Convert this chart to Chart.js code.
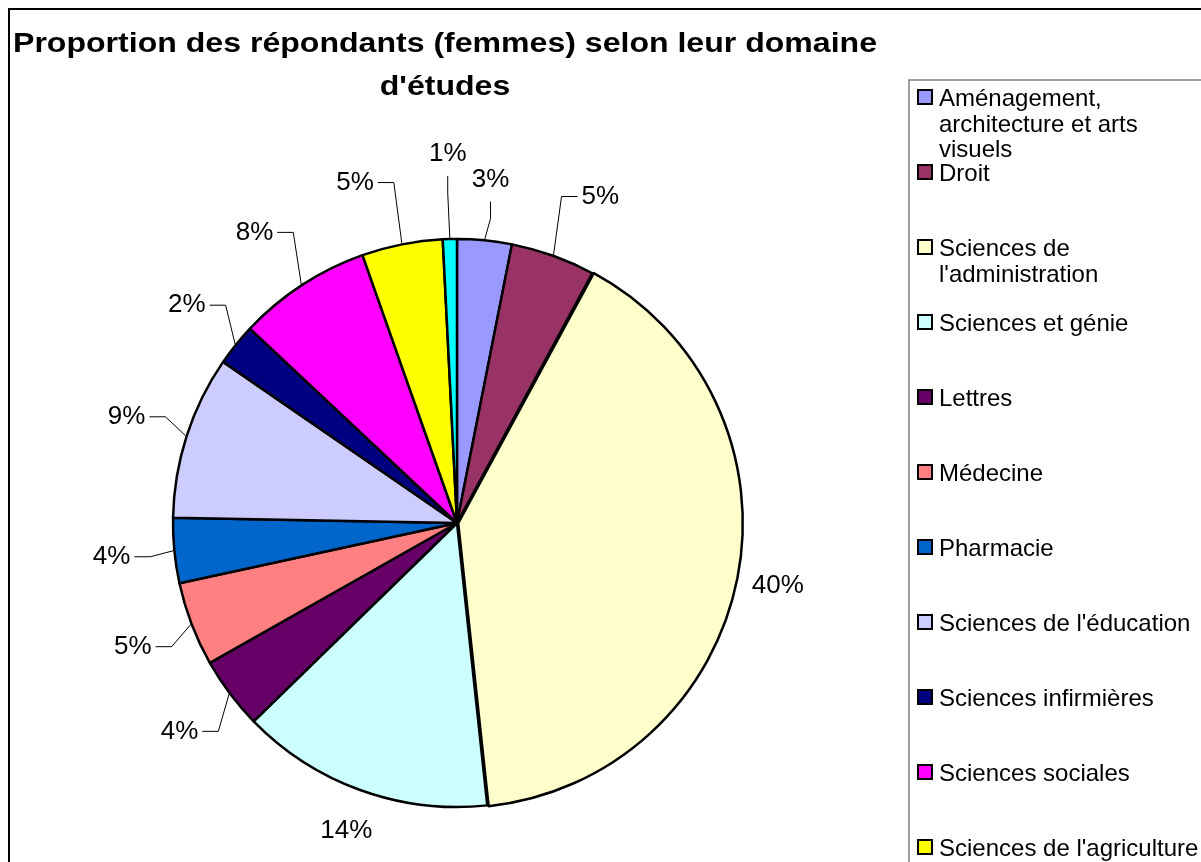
<!DOCTYPE html>
<html lang="fr">
<head>
<meta charset="utf-8">
<script src="https://cdn.jsdelivr.net/npm/chart.js@4.4.1/dist/chart.umd.min.js"></script>
<style>
  html, body { margin: 0; padding: 0; background: #ffffff; overflow: hidden; }
  #wrap { position: relative; width: 1201px; height: 862px; }
  canvas { display: block; }
</style>
</head>
<body>
<div id="wrap"><canvas id="c" width="1201" height="862"></canvas></div>
<script>
// ---- Data ----
const titleLines = ["Proportion des répondants (femmes) selon leur domaine", "d'études"];
const categories = [
  "Aménagement, architecture et arts visuels",
  "Droit",
  "Sciences de l'administration",
  "Sciences et génie",
  "Lettres",
  "Médecine",
  "Pharmacie",
  "Sciences de l'éducation",
  "Sciences infirmières",
  "Sciences sociales",
  "Sciences de l'agriculture",
  "Autres"
];
const values = [3.1, 4.8, 40.4, 14.4, 4.1, 4.8, 3.7, 9.3, 2.4, 7.6, 4.6, 0.8];
const colors = ["#9999FF", "#993366", "#FFFFCC", "#CCFFFF", "#660066", "#FF8080",
                "#0066CC", "#CCCCFF", "#000080", "#FF00FF", "#FFFF00", "#00FFFF"];

const FONT = '"Liberation Sans", Arial, Helvetica, sans-serif';
const total = values.reduce((a, b) => a + b, 0);
const maxVal = Math.max(...values);

// Frame + title
const framePlugin = {
  id: 'frame',
  beforeDraw(chart) {
    const ctx = chart.ctx;
    ctx.save();
    ctx.fillStyle = '#ffffff';
    ctx.fillRect(0, 0, chart.width, chart.height);
    ctx.strokeStyle = '#000000';
    ctx.lineWidth = 2;
    ctx.strokeRect(9, 9, chart.width + 20, chart.height + 20);
    ctx.fillStyle = '#000000';
    ctx.font = 'bold 28px ' + FONT;
    ctx.textAlign = 'center';
    ctx.textBaseline = 'alphabetic';
    const baselines = [52, 95];
    titleLines.forEach((line, i) => {
      ctx.save();
      ctx.translate(445, baselines[i]);
      ctx.scale(1.145, 1);
      ctx.fillText(line, 0, 0);
      ctx.restore();
    });
    ctx.restore();
  }
};

// Legend drawn on canvas (Excel-like spacing and wrapping)
const legendPlugin = {
  id: 'xlLegend',
  afterDraw(chart) {
    const ctx = chart.ctx;
    ctx.save();
    ctx.strokeStyle = '#7f7f7f';
    ctx.lineWidth = 1.5;
    ctx.strokeRect(909, 80, chart.width, chart.height);
    ctx.font = '24px ' + FONT;
    ctx.textAlign = 'left';
    ctx.textBaseline = 'alphabetic';
    const maxW = 265;
    categories.forEach((cat, i) => {
      const base = 106 + 75 * i;
      if (base - 20 > chart.height) return;
      ctx.fillStyle = colors[i];
      ctx.fillRect(918, base - 16, 14, 14);
      ctx.strokeStyle = '#000000';
      ctx.lineWidth = 2;
      ctx.strokeRect(918, base - 16, 14, 14);
      const words = cat.split(' ');
      const lines = [];
      let cur = '';
      words.forEach(w => {
        const test = cur ? cur + ' ' + w : w;
        if (ctx.measureText(test).width > maxW && cur) { lines.push(cur); cur = w; }
        else cur = test;
      });
      if (cur) lines.push(cur);
      ctx.fillStyle = '#000000';
      lines.forEach((ln, k) => ctx.fillText(ln, 939, base + k * 25.5));
    });
    ctx.restore();
  }
};

// Percentage labels with leader lines
const labelPlugin = {
  id: 'pctLabels',
  afterDatasetsDraw(chart) {
    const ctx = chart.ctx;
    const meta = chart.getDatasetMeta(0);
    ctx.save();
    ctx.font = '26px ' + FONT;
    ctx.fillStyle = '#000000';
    ctx.strokeStyle = '#000000';
    ctx.lineWidth = 1;
    ctx.textAlign = 'center';
    ctx.textBaseline = 'middle';
    const placed = [];
    const overlaps = (b) => placed.some(p => !(b.x2 < p.x1 || b.x1 > p.x2 || b.y2 < p.y1 || b.y1 > p.y2));
    meta.data.forEach((arc, i) => {
      const p = arc.getProps(['x', 'y', 'startAngle', 'endAngle', 'outerRadius'], true);
      const mid = (p.startAngle + p.endAngle) / 2;
      const c = Math.cos(mid), s = Math.sin(mid);
      const R = p.outerRadius + 1;
      const text = Math.round(values[i] / total * 100) + '%';
      const w = ctx.measureText(text).width;
      const h = 20;
      if (values[i] / total >= 0.1) {
        const lx = p.x + c * (R + 42), ly = p.y + s * (R + 42);
        ctx.fillText(text, lx, ly);
        placed.push({x1: lx - w / 2 - 6, x2: lx + w / 2 + 6, y1: ly - h / 2 - 2, y2: ly + h / 2 + 2});
        return;
      }
      const ax = p.x + c * R, ay = p.y + s * R;
      const vertical = Math.abs(c) < 0.15;
      let d = vertical ? 60 : 62;
      let box, pts, lx, ly;
      for (let tries = 0; tries < 40; tries++) {
        lx = p.x + c * (R + d);
        ly = p.y + s * (R + d);
        if (vertical) {
          const dirY = Math.sign(s) || -1;
          const y0 = ly - dirY * (h / 2 + 12);
          pts = [[lx, y0], [lx, y0 - dirY * 17]];
        } else {
          const dirX = Math.sign(c);
          let near = lx - dirX * (w / 2);
          let ex = near - dirX * 20;
          const need = ax + dirX * 8;
          if (dirX < 0 ? ex > need : ex < need) {
            const shift = need - ex;
            lx += shift; near += shift; ex += shift;
          }
          pts = [[near - dirX * 4, ly], [ex, ly]];
        }
        box = {x1: lx - w / 2 - 6, x2: lx + w / 2 + 6, y1: ly - h / 2 - 2, y2: ly + h / 2 + 2};
        if (!overlaps(box)) break;
        d += 4;
      }
      placed.push(box);
      ctx.beginPath();
      ctx.moveTo(pts[0][0], pts[0][1]);
      ctx.lineTo(pts[1][0], pts[1][1]);
      ctx.lineTo(ax, ay);
      ctx.stroke();
      ctx.fillText(text, lx, ly);
    });
    ctx.restore();
  }
};

new Chart(document.getElementById('c'), {
  type: 'pie',
  data: {
    labels: categories,
    datasets: [{
      data: values,
      backgroundColor: colors,
      borderColor: '#000000',
      borderWidth: 2.5,
      borderJoinStyle: 'round',
      offset: values.map(v => (v === maxVal ? 5 : 0)),
      radius: 284
    }]
  },
  options: {
    responsive: false,
    animation: false,
    layout: { padding: { left: 0, right: 287, top: 184, bottom: 0 } },
    plugins: {
      legend: { display: false },
      title: { display: false },
      tooltip: { enabled: false }
    }
  },
  plugins: [framePlugin, labelPlugin, legendPlugin]
});
</script>
</body>
</html>
